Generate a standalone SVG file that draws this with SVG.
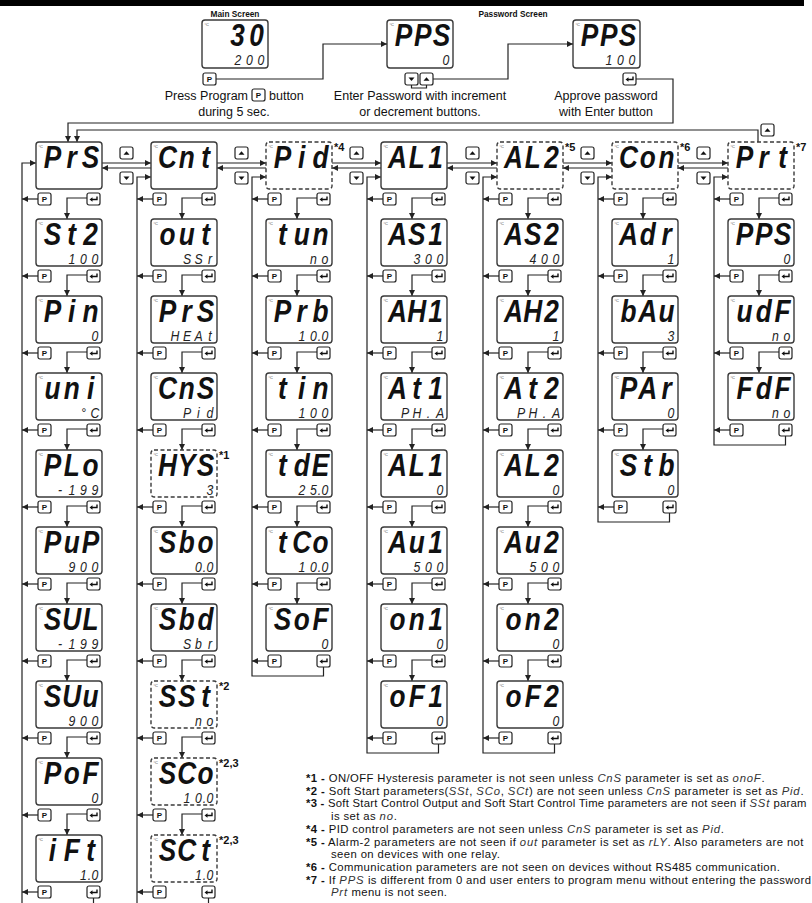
<svg xmlns="http://www.w3.org/2000/svg" xmlns:xlink="http://www.w3.org/1999/xlink" width="812" height="903" viewBox="0 0 812 903">
<style>
.scr{fill:#fff;stroke:#3a3a3a;stroke-width:1.4}
.dsh{stroke-dasharray:4 2.5}
.dg{font-family:'Liberation Sans',Arial,sans-serif;font-size:4px;fill:#444}
.bg{font-family:'Liberation Sans',Arial,sans-serif;font-size:32px;font-weight:bold;font-style:italic;fill:#111;text-anchor:middle}
.sm{font-family:'Liberation Sans',Arial,sans-serif;font-size:15px;font-style:italic;fill:#222;text-anchor:middle}
.btn{fill:#fff;stroke:#222;stroke-width:1.2}
.bt{font-family:'Liberation Sans',Arial,sans-serif;font-size:8px;font-weight:bold;fill:#111;text-anchor:middle}
.ln{fill:none;stroke:#222;stroke-width:1.2}
.ar{fill:none;stroke:#222;stroke-width:1.2;marker-end:url(#ah)}
.cap{font-family:'Liberation Sans',Arial,sans-serif;font-size:12.5px;fill:#111}
.ttl{font-family:'Liberation Sans',Arial,sans-serif;font-size:8.3px;font-weight:bold;fill:#111;text-anchor:middle}
.ft{font-family:'Liberation Sans',Arial,sans-serif;font-size:11px;font-weight:bold;fill:#111}
.nt{font-family:'Liberation Sans',Arial,sans-serif;font-size:11.3px;letter-spacing:0.4px;fill:#111}
.b{font-weight:bold}
.sg{font-style:italic;fill:#333;letter-spacing:0.8px}
</style>
<defs>
<marker id="ah" viewBox="0 0 10 10" refX="10" refY="5" markerWidth="6" markerHeight="6" markerUnits="userSpaceOnUse" orient="auto"><path d="M0,0L10,5L0,10z" fill="#222"/></marker>
<g id="bP"><rect class="btn" width="13" height="12" rx="2"/><text class="bt" x="6.5" y="9">P</text></g>
<g id="bE"><rect class="btn" width="13" height="12" rx="2"/><path d="M4,6.5H10V3.5" fill="none" stroke="#111" stroke-width="1.4"/><path d="M2.5,6.5L5.5,4.2V8.8Z" fill="#111"/></g>
<g id="bU"><rect class="btn" width="13" height="12" rx="2"/><path d="M3.5,7.8L6.5,4.2L9.5,7.8Z" fill="#111"/></g>
<g id="bD"><rect class="btn" width="13" height="12" rx="2"/><path d="M3.5,4.5L6.5,8.1L9.5,4.5Z" fill="#111"/></g>
</defs>
<rect width="812" height="903" fill="#fff"/>
<rect x="0" y="0" width="804" height="6" fill="#000"/>

<text class="ttl" x="235" y="17">Main Screen</text>
<text class="ttl" x="513" y="17">Password Screen</text>
<g id="main-screen" transform="translate(202,20)">
<rect class="scr" width="66" height="48" rx="3"/><text class="dg" x="2.5" y="5.5">°C</text>
<text class="bg" transform="scale(.82 1)" x="43.5 66.5" y="26">30</text>
<text class="sm" transform="scale(.82 1)" x="43.9 57.9 72" y="45">200</text>
<use href="#bP" x="1" y="53"/>
</g>
<g id="password-screen-0" transform="translate(387,20)">
<rect class="scr" width="66" height="48" rx="3"/><text class="dg" x="2.5" y="5.5">°C</text>
<text class="bg" transform="scale(.82 1)" x="20 43.5 66.5" y="26">PPS</text>
<text class="sm" transform="scale(.82 1)" x="72" y="45">0</text>
<use href="#bD" x="18" y="53"/><use href="#bU" x="33" y="53"/>
</g>
<g id="password-screen-100" transform="translate(573,20)">
<rect class="scr" width="67" height="48" rx="3"/><text class="dg" x="2.5" y="5.5">°C</text>
<text class="bg" transform="scale(.82 1)" x="20 43.5 66.5" y="26">PPS</text>
<text class="sm" transform="scale(.82 1)" x="43.9 57.9 72" y="45">100</text>
<use href="#bE" x="50" y="53"/>
</g>
<g id="captions">
<text class="cap" x="248" y="100" text-anchor="end">Press Program</text><use href="#bP" x="252" y="89"/><text class="cap" x="269" y="100">button</text>
<text class="cap" x="234" y="116" text-anchor="middle">during 5 sec.</text>
<text class="cap" x="420" y="100" text-anchor="middle">Enter Password with increment</text>
<text class="cap" x="420" y="116" text-anchor="middle">or decrement buttons.</text>
<text class="cap" x="606" y="100" text-anchor="middle">Approve password</text>
<text class="cap" x="606" y="116" text-anchor="middle">with Enter button</text>
</g>

<g id="connectors">
<path class="ar" d="M216,79H323V44H387"/>
<path class="ar" d="M433,79H508V44H573"/>
<path class="ln" d="M411.5,85V88H426.5V85"/>
<path class="ar" d="M636,79H673V123H68V142"/>
<path class="ar" d="M758,142V130H77V142"/>
<path class="ar" d="M102,163H151"/><path class="ar" d="M151,168H102"/>
<path class="ar" d="M217,163H266"/><path class="ar" d="M266,168H217"/>
<path class="ar" d="M332,163H381"/><path class="ar" d="M381,168H332"/>
<path class="ar" d="M447,163H497"/><path class="ar" d="M497,168H447"/>
<path class="ar" d="M563,163H612"/><path class="ar" d="M612,168H563"/>
<path class="ar" d="M678,163H728"/><path class="ar" d="M728,168H678"/>
<g transform="translate(36,142)">
<path class="ar" d="M2,57H-14"/><path class="ar" d="M2,134H-14"/><path class="ar" d="M2,211H-14"/><path class="ar" d="M2,288H-14"/><path class="ar" d="M2,365H-14"/><path class="ar" d="M2,442H-14"/><path class="ar" d="M2,519H-14"/><path class="ar" d="M2,596H-14"/><path class="ar" d="M2,673H-14"/><path class="ar" d="M2,750H-14"/>
<path class="ar" d="M51,56H31V77"/><path class="ar" d="M51,133H31V154"/><path class="ar" d="M51,210H31V231"/><path class="ar" d="M51,287H31V308"/><path class="ar" d="M51,364H31V385"/><path class="ar" d="M51,441H31V462"/><path class="ar" d="M51,518H31V539"/><path class="ar" d="M51,595H31V616"/><path class="ar" d="M51,672H31V693"/>
<path class="ar" d="M57.5,756V765H-14V21H0"/>
</g>
<g transform="translate(151,142)">
<path class="ar" d="M2,57H-14"/><path class="ar" d="M2,134H-14"/><path class="ar" d="M2,211H-14"/><path class="ar" d="M2,288H-14"/><path class="ar" d="M2,365H-14"/><path class="ar" d="M2,442H-14"/><path class="ar" d="M2,519H-14"/><path class="ar" d="M2,596H-14"/><path class="ar" d="M2,673H-14"/><path class="ar" d="M2,750H-14"/>
<path class="ar" d="M51,56H31V77"/><path class="ar" d="M51,133H31V154"/><path class="ar" d="M51,210H31V231"/><path class="ar" d="M51,287H31V308"/><path class="ar" d="M51,364H31V385"/><path class="ar" d="M51,441H31V462"/><path class="ar" d="M51,518H31V539"/><path class="ar" d="M51,595H31V616"/><path class="ar" d="M51,672H31V693"/>
<path class="ar" d="M57.5,756V765H-14V35H0"/>
</g>
<g transform="translate(266,142)">
<path class="ar" d="M2,57H-14"/><path class="ar" d="M2,134H-14"/><path class="ar" d="M2,211H-14"/><path class="ar" d="M2,288H-14"/><path class="ar" d="M2,365H-14"/><path class="ar" d="M2,442H-14"/><path class="ar" d="M2,519H-14"/>
<path class="ar" d="M51,56H31V77"/><path class="ar" d="M51,133H31V154"/><path class="ar" d="M51,210H31V231"/><path class="ar" d="M51,287H31V308"/><path class="ar" d="M51,364H31V385"/><path class="ar" d="M51,441H31V462"/>
<path class="ar" d="M57.5,525V534H-14V35H0"/>
</g>
<g transform="translate(381,142)">
<path class="ar" d="M2,57H-14"/><path class="ar" d="M2,134H-14"/><path class="ar" d="M2,211H-14"/><path class="ar" d="M2,288H-14"/><path class="ar" d="M2,365H-14"/><path class="ar" d="M2,442H-14"/><path class="ar" d="M2,519H-14"/><path class="ar" d="M2,596H-14"/>
<path class="ar" d="M51,56H31V77"/><path class="ar" d="M51,133H31V154"/><path class="ar" d="M51,210H31V231"/><path class="ar" d="M51,287H31V308"/><path class="ar" d="M51,364H31V385"/><path class="ar" d="M51,441H31V462"/><path class="ar" d="M51,518H31V539"/>
<path class="ar" d="M57.5,602V611H-14V35H0"/>
</g>
<g transform="translate(497,142)">
<path class="ar" d="M2,57H-14"/><path class="ar" d="M2,134H-14"/><path class="ar" d="M2,211H-14"/><path class="ar" d="M2,288H-14"/><path class="ar" d="M2,365H-14"/><path class="ar" d="M2,442H-14"/><path class="ar" d="M2,519H-14"/><path class="ar" d="M2,596H-14"/>
<path class="ar" d="M51,56H31V77"/><path class="ar" d="M51,133H31V154"/><path class="ar" d="M51,210H31V231"/><path class="ar" d="M51,287H31V308"/><path class="ar" d="M51,364H31V385"/><path class="ar" d="M51,441H31V462"/><path class="ar" d="M51,518H31V539"/>
<path class="ar" d="M57.5,602V611H-14V35H0"/>
</g>
<g transform="translate(612,142)">
<path class="ar" d="M2,57H-14"/><path class="ar" d="M2,134H-14"/><path class="ar" d="M2,211H-14"/><path class="ar" d="M2,288H-14"/><path class="ar" d="M2,365H-14"/>
<path class="ar" d="M51,56H31V77"/><path class="ar" d="M51,133H31V154"/><path class="ar" d="M51,210H31V231"/><path class="ar" d="M51,287H31V308"/>
<path class="ar" d="M57.5,371V380H-14V35H0"/>
</g>
<g transform="translate(728,142)">
<path class="ar" d="M2,57H-14"/><path class="ar" d="M2,134H-14"/><path class="ar" d="M2,211H-14"/><path class="ar" d="M2,288H-14"/>
<path class="ar" d="M51,56H31V77"/><path class="ar" d="M51,133H31V154"/><path class="ar" d="M51,210H31V231"/>
<path class="ar" d="M57.5,294V303H-14V35H0"/>
</g>
</g>

<g id="nav-buttons">
<use href="#bU" x="120" y="147"/><use href="#bD" x="120" y="172"/>
<use href="#bU" x="235" y="147"/><use href="#bD" x="235" y="172"/>
<use href="#bU" x="350" y="147"/><use href="#bD" x="350" y="172"/>
<use href="#bU" x="466" y="147"/><use href="#bD" x="466" y="172"/>
<use href="#bU" x="581" y="147"/><use href="#bD" x="581" y="172"/>
<use href="#bU" x="697" y="147"/><use href="#bD" x="697" y="172"/>
<use href="#bU" x="761" y="124"/>
</g>

<g id="n-PrS" transform="translate(36,142)"><rect class="scr" width="66" height="47" rx="3"/><text class="dg" x="2.5" y="5.5">°C</text><text class="bg" transform="scale(.82 1)" x="20 43.5 66.5" y="26">PrS</text><use href="#bP" x="2" y="51"/><use href="#bE" x="51" y="51"/></g>
<g id="n-St2" transform="translate(36,219)"><rect class="scr" width="66" height="47" rx="3"/><text class="dg" x="2.5" y="5.5">°C</text><text class="bg" transform="scale(.82 1)" x="20 43.5 66.5" y="26">St2</text><text class="sm" transform="scale(.82 1)" x="43.9 57.9 72" y="45">100</text><use href="#bP" x="2" y="51"/><use href="#bE" x="51" y="51"/></g>
<g id="n-Pin" transform="translate(36,296)"><rect class="scr" width="66" height="47" rx="3"/><text class="dg" x="2.5" y="5.5">°C</text><text class="bg" transform="scale(.82 1)" x="20 43.5 66.5" y="26">Pin</text><text class="sm" transform="scale(.82 1)" x="72" y="45">0</text><use href="#bP" x="2" y="51"/><use href="#bE" x="51" y="51"/></g>
<g id="n-uni" transform="translate(36,373)"><rect class="scr" width="66" height="47" rx="3"/><text class="dg" x="2.5" y="5.5">°C</text><text class="bg" transform="scale(.82 1)" x="20 43.5 66.5" y="26">uni</text><text class="sm" transform="scale(.82 1)" x="57.9 72" y="45">°C</text><use href="#bP" x="2" y="51"/><use href="#bE" x="51" y="51"/></g>
<g id="n-PLo" transform="translate(36,450)"><rect class="scr" width="66" height="47" rx="3"/><text class="dg" x="2.5" y="5.5">°C</text><text class="bg" transform="scale(.82 1)" x="20 43.5 66.5" y="26">PLo</text><text class="sm" transform="scale(.82 1)" x="29.3 43.9 57.9 72" y="45">-199</text><use href="#bP" x="2" y="51"/><use href="#bE" x="51" y="51"/></g>
<g id="n-PuP" transform="translate(36,527)"><rect class="scr" width="66" height="47" rx="3"/><text class="dg" x="2.5" y="5.5">°C</text><text class="bg" transform="scale(.82 1)" x="20 43.5 66.5" y="26">PuP</text><text class="sm" transform="scale(.82 1)" x="43.9 57.9 72" y="45">900</text><use href="#bP" x="2" y="51"/><use href="#bE" x="51" y="51"/></g>
<g id="n-SUL" transform="translate(36,604)"><rect class="scr" width="66" height="47" rx="3"/><text class="dg" x="2.5" y="5.5">°C</text><text class="bg" transform="scale(.82 1)" x="20 43.5 66.5" y="26">SUL</text><text class="sm" transform="scale(.82 1)" x="29.3 43.9 57.9 72" y="45">-199</text><use href="#bP" x="2" y="51"/><use href="#bE" x="51" y="51"/></g>
<g id="n-SUu" transform="translate(36,681)"><rect class="scr" width="66" height="47" rx="3"/><text class="dg" x="2.5" y="5.5">°C</text><text class="bg" transform="scale(.82 1)" x="20 43.5 66.5" y="26">SUu</text><text class="sm" transform="scale(.82 1)" x="43.9 57.9 72" y="45">900</text><use href="#bP" x="2" y="51"/><use href="#bE" x="51" y="51"/></g>
<g id="n-PoF" transform="translate(36,758)"><rect class="scr" width="66" height="47" rx="3"/><text class="dg" x="2.5" y="5.5">°C</text><text class="bg" transform="scale(.82 1)" x="20 43.5 66.5" y="26">PoF</text><text class="sm" transform="scale(.82 1)" x="72" y="45">0</text><use href="#bP" x="2" y="51"/><use href="#bE" x="51" y="51"/></g>
<g id="n-iFt" transform="translate(36,835)"><rect class="scr" width="66" height="47" rx="3"/><text class="dg" x="2.5" y="5.5">°C</text><text class="bg" transform="scale(.82 1)" x="20 43.5 66.5" y="26">iFt</text><text class="sm" transform="scale(.82 1)" x="57.9 65.2 72" y="45">1.0</text><use href="#bP" x="2" y="51"/><use href="#bE" x="51" y="51"/></g>

<g id="n-Cnt" transform="translate(151,142)"><rect class="scr" width="66" height="47" rx="3"/><text class="dg" x="2.5" y="5.5">°C</text><text class="bg" transform="scale(.82 1)" x="20 43.5 66.5" y="26">Cnt</text><use href="#bP" x="2" y="51"/><use href="#bE" x="51" y="51"/></g>
<g id="n-out" transform="translate(151,219)"><rect class="scr" width="66" height="47" rx="3"/><text class="dg" x="2.5" y="5.5">°C</text><text class="bg" transform="scale(.82 1)" x="20 43.5 66.5" y="26">out</text><text class="sm" transform="scale(.82 1)" x="43.9 57.9 72" y="45">SSr</text><use href="#bP" x="2" y="51"/><use href="#bE" x="51" y="51"/></g>
<g id="n-PrS-2" transform="translate(151,296)"><rect class="scr" width="66" height="47" rx="3"/><text class="dg" x="2.5" y="5.5">°C</text><text class="bg" transform="scale(.82 1)" x="20 43.5 66.5" y="26">PrS</text><text class="sm" transform="scale(.82 1)" x="29.3 43.9 57.9 72" y="45">HEAt</text><use href="#bP" x="2" y="51"/><use href="#bE" x="51" y="51"/></g>
<g id="n-CnS" transform="translate(151,373)"><rect class="scr" width="66" height="47" rx="3"/><text class="dg" x="2.5" y="5.5">°C</text><text class="bg" transform="scale(.82 1)" x="20 43.5 66.5" y="26">CnS</text><text class="sm" transform="scale(.82 1)" x="43.9 57.9 72" y="45">Pid</text><use href="#bP" x="2" y="51"/><use href="#bE" x="51" y="51"/></g>
<g id="n-HYS" transform="translate(151,450)"><rect class="scr dsh" width="66" height="47" rx="3"/><text class="dg" x="2.5" y="5.5">°C</text><text class="bg" transform="scale(.82 1)" x="20 43.5 66.5" y="26">HYS</text><text class="sm" transform="scale(.82 1)" x="72" y="45">3</text><use href="#bP" x="2" y="51"/><use href="#bE" x="51" y="51"/><text class="ft" x="68" y="9">*1</text></g>
<g id="n-Sbo" transform="translate(151,527)"><rect class="scr" width="66" height="47" rx="3"/><text class="dg" x="2.5" y="5.5">°C</text><text class="bg" transform="scale(.82 1)" x="20 43.5 66.5" y="26">Sbo</text><text class="sm" transform="scale(.82 1)" x="57.9 65.2 72" y="45">0.0</text><use href="#bP" x="2" y="51"/><use href="#bE" x="51" y="51"/></g>
<g id="n-Sbd" transform="translate(151,604)"><rect class="scr" width="66" height="47" rx="3"/><text class="dg" x="2.5" y="5.5">°C</text><text class="bg" transform="scale(.82 1)" x="20 43.5 66.5" y="26">Sbd</text><text class="sm" transform="scale(.82 1)" x="43.9 57.9 72" y="45">Sbr</text><use href="#bP" x="2" y="51"/><use href="#bE" x="51" y="51"/></g>
<g id="n-SSt" transform="translate(151,681)"><rect class="scr dsh" width="66" height="47" rx="3"/><text class="dg" x="2.5" y="5.5">°C</text><text class="bg" transform="scale(.82 1)" x="20 43.5 66.5" y="26">SSt</text><text class="sm" transform="scale(.82 1)" x="57.9 72" y="45">no</text><use href="#bP" x="2" y="51"/><use href="#bE" x="51" y="51"/><text class="ft" x="68" y="9">*2</text></g>
<g id="n-SCo" transform="translate(151,758)"><rect class="scr dsh" width="66" height="47" rx="3"/><text class="dg" x="2.5" y="5.5">°C</text><text class="bg" transform="scale(.82 1)" x="20 43.5 66.5" y="26">SCo</text><text class="sm" transform="scale(.82 1)" x="43.9 57.9 65.2 72" y="45">10.0</text><use href="#bP" x="2" y="51"/><use href="#bE" x="51" y="51"/><text class="ft" x="68" y="9">*2,3</text></g>
<g id="n-SCt" transform="translate(151,835)"><rect class="scr dsh" width="66" height="47" rx="3"/><text class="dg" x="2.5" y="5.5">°C</text><text class="bg" transform="scale(.82 1)" x="20 43.5 66.5" y="26">SCt</text><text class="sm" transform="scale(.82 1)" x="57.9 65.2 72" y="45">1.0</text><use href="#bP" x="2" y="51"/><use href="#bE" x="51" y="51"/><text class="ft" x="68" y="9">*2,3</text></g>

<g id="n-Pid" transform="translate(266,142)"><rect class="scr dsh" width="66" height="47" rx="3"/><text class="dg" x="2.5" y="5.5">°C</text><text class="bg" transform="scale(.82 1)" x="20 43.5 66.5" y="26">Pid</text><use href="#bP" x="2" y="51"/><use href="#bE" x="51" y="51"/><text class="ft" x="68" y="9">*4</text></g>
<g id="n-tun" transform="translate(266,219)"><rect class="scr" width="66" height="47" rx="3"/><text class="dg" x="2.5" y="5.5">°C</text><text class="bg" transform="scale(.82 1)" x="20 43.5 66.5" y="26">tun</text><text class="sm" transform="scale(.82 1)" x="57.9 72" y="45">no</text><use href="#bP" x="2" y="51"/><use href="#bE" x="51" y="51"/></g>
<g id="n-Prb" transform="translate(266,296)"><rect class="scr" width="66" height="47" rx="3"/><text class="dg" x="2.5" y="5.5">°C</text><text class="bg" transform="scale(.82 1)" x="20 43.5 66.5" y="26">Prb</text><text class="sm" transform="scale(.82 1)" x="43.9 57.9 65.2 72" y="45">10.0</text><use href="#bP" x="2" y="51"/><use href="#bE" x="51" y="51"/></g>
<g id="n-tin" transform="translate(266,373)"><rect class="scr" width="66" height="47" rx="3"/><text class="dg" x="2.5" y="5.5">°C</text><text class="bg" transform="scale(.82 1)" x="20 43.5 66.5" y="26">tin</text><text class="sm" transform="scale(.82 1)" x="43.9 57.9 72" y="45">100</text><use href="#bP" x="2" y="51"/><use href="#bE" x="51" y="51"/></g>
<g id="n-tdE" transform="translate(266,450)"><rect class="scr" width="66" height="47" rx="3"/><text class="dg" x="2.5" y="5.5">°C</text><text class="bg" transform="scale(.82 1)" x="20 43.5 66.5" y="26">tdE</text><text class="sm" transform="scale(.82 1)" x="43.9 57.9 65.2 72" y="45">25.0</text><use href="#bP" x="2" y="51"/><use href="#bE" x="51" y="51"/></g>
<g id="n-tCo" transform="translate(266,527)"><rect class="scr" width="66" height="47" rx="3"/><text class="dg" x="2.5" y="5.5">°C</text><text class="bg" transform="scale(.82 1)" x="20 43.5 66.5" y="26">tCo</text><text class="sm" transform="scale(.82 1)" x="43.9 57.9 65.2 72" y="45">10.0</text><use href="#bP" x="2" y="51"/><use href="#bE" x="51" y="51"/></g>
<g id="n-SoF" transform="translate(266,604)"><rect class="scr" width="66" height="47" rx="3"/><text class="dg" x="2.5" y="5.5">°C</text><text class="bg" transform="scale(.82 1)" x="20 43.5 66.5" y="26">SoF</text><text class="sm" transform="scale(.82 1)" x="72" y="45">0</text><use href="#bP" x="2" y="51"/><use href="#bE" x="51" y="51"/></g>

<g id="n-AL1" transform="translate(381,142)"><rect class="scr" width="66" height="47" rx="3"/><text class="dg" x="2.5" y="5.5">°C</text><text class="bg" transform="scale(.82 1)" x="20 43.5 66.5" y="26">AL1</text><use href="#bP" x="2" y="51"/><use href="#bE" x="51" y="51"/></g>
<g id="n-AS1" transform="translate(381,219)"><rect class="scr" width="66" height="47" rx="3"/><text class="dg" x="2.5" y="5.5">°C</text><text class="bg" transform="scale(.82 1)" x="20 43.5 66.5" y="26">AS1</text><text class="sm" transform="scale(.82 1)" x="43.9 57.9 72" y="45">300</text><use href="#bP" x="2" y="51"/><use href="#bE" x="51" y="51"/></g>
<g id="n-AH1" transform="translate(381,296)"><rect class="scr" width="66" height="47" rx="3"/><text class="dg" x="2.5" y="5.5">°C</text><text class="bg" transform="scale(.82 1)" x="20 43.5 66.5" y="26">AH1</text><text class="sm" transform="scale(.82 1)" x="72" y="45">1</text><use href="#bP" x="2" y="51"/><use href="#bE" x="51" y="51"/></g>
<g id="n-At1" transform="translate(381,373)"><rect class="scr" width="66" height="47" rx="3"/><text class="dg" x="2.5" y="5.5">°C</text><text class="bg" transform="scale(.82 1)" x="20 43.5 66.5" y="26">At1</text><text class="sm" transform="scale(.82 1)" x="29.3 43.9 57.9 72" y="45">PH.A</text><use href="#bP" x="2" y="51"/><use href="#bE" x="51" y="51"/></g>
<g id="n-AL1-v" transform="translate(381,450)"><rect class="scr" width="66" height="47" rx="3"/><text class="dg" x="2.5" y="5.5">°C</text><text class="bg" transform="scale(.82 1)" x="20 43.5 66.5" y="26">AL1</text><text class="sm" transform="scale(.82 1)" x="72" y="45">0</text><use href="#bP" x="2" y="51"/><use href="#bE" x="51" y="51"/></g>
<g id="n-Au1" transform="translate(381,527)"><rect class="scr" width="66" height="47" rx="3"/><text class="dg" x="2.5" y="5.5">°C</text><text class="bg" transform="scale(.82 1)" x="20 43.5 66.5" y="26">Au1</text><text class="sm" transform="scale(.82 1)" x="43.9 57.9 72" y="45">500</text><use href="#bP" x="2" y="51"/><use href="#bE" x="51" y="51"/></g>
<g id="n-on1" transform="translate(381,604)"><rect class="scr" width="66" height="47" rx="3"/><text class="dg" x="2.5" y="5.5">°C</text><text class="bg" transform="scale(.82 1)" x="20 43.5 66.5" y="26">on1</text><text class="sm" transform="scale(.82 1)" x="72" y="45">0</text><use href="#bP" x="2" y="51"/><use href="#bE" x="51" y="51"/></g>
<g id="n-oF1" transform="translate(381,681)"><rect class="scr" width="66" height="47" rx="3"/><text class="dg" x="2.5" y="5.5">°C</text><text class="bg" transform="scale(.82 1)" x="20 43.5 66.5" y="26">oF1</text><text class="sm" transform="scale(.82 1)" x="72" y="45">0</text><use href="#bP" x="2" y="51"/><use href="#bE" x="51" y="51"/></g>

<g id="n-AL2" transform="translate(497,142)"><rect class="scr dsh" width="66" height="47" rx="3"/><text class="dg" x="2.5" y="5.5">°C</text><text class="bg" transform="scale(.82 1)" x="20 43.5 66.5" y="26">AL2</text><use href="#bP" x="2" y="51"/><use href="#bE" x="51" y="51"/><text class="ft" x="68" y="9">*5</text></g>
<g id="n-AS2" transform="translate(497,219)"><rect class="scr" width="66" height="47" rx="3"/><text class="dg" x="2.5" y="5.5">°C</text><text class="bg" transform="scale(.82 1)" x="20 43.5 66.5" y="26">AS2</text><text class="sm" transform="scale(.82 1)" x="43.9 57.9 72" y="45">400</text><use href="#bP" x="2" y="51"/><use href="#bE" x="51" y="51"/></g>
<g id="n-AH2" transform="translate(497,296)"><rect class="scr" width="66" height="47" rx="3"/><text class="dg" x="2.5" y="5.5">°C</text><text class="bg" transform="scale(.82 1)" x="20 43.5 66.5" y="26">AH2</text><text class="sm" transform="scale(.82 1)" x="72" y="45">1</text><use href="#bP" x="2" y="51"/><use href="#bE" x="51" y="51"/></g>
<g id="n-At2" transform="translate(497,373)"><rect class="scr" width="66" height="47" rx="3"/><text class="dg" x="2.5" y="5.5">°C</text><text class="bg" transform="scale(.82 1)" x="20 43.5 66.5" y="26">At2</text><text class="sm" transform="scale(.82 1)" x="29.3 43.9 57.9 72" y="45">PH.A</text><use href="#bP" x="2" y="51"/><use href="#bE" x="51" y="51"/></g>
<g id="n-AL2-v" transform="translate(497,450)"><rect class="scr" width="66" height="47" rx="3"/><text class="dg" x="2.5" y="5.5">°C</text><text class="bg" transform="scale(.82 1)" x="20 43.5 66.5" y="26">AL2</text><text class="sm" transform="scale(.82 1)" x="72" y="45">0</text><use href="#bP" x="2" y="51"/><use href="#bE" x="51" y="51"/></g>
<g id="n-Au2" transform="translate(497,527)"><rect class="scr" width="66" height="47" rx="3"/><text class="dg" x="2.5" y="5.5">°C</text><text class="bg" transform="scale(.82 1)" x="20 43.5 66.5" y="26">Au2</text><text class="sm" transform="scale(.82 1)" x="43.9 57.9 72" y="45">500</text><use href="#bP" x="2" y="51"/><use href="#bE" x="51" y="51"/></g>
<g id="n-on2" transform="translate(497,604)"><rect class="scr" width="66" height="47" rx="3"/><text class="dg" x="2.5" y="5.5">°C</text><text class="bg" transform="scale(.82 1)" x="20 43.5 66.5" y="26">on2</text><text class="sm" transform="scale(.82 1)" x="72" y="45">0</text><use href="#bP" x="2" y="51"/><use href="#bE" x="51" y="51"/></g>
<g id="n-oF2" transform="translate(497,681)"><rect class="scr" width="66" height="47" rx="3"/><text class="dg" x="2.5" y="5.5">°C</text><text class="bg" transform="scale(.82 1)" x="20 43.5 66.5" y="26">oF2</text><text class="sm" transform="scale(.82 1)" x="72" y="45">0</text><use href="#bP" x="2" y="51"/><use href="#bE" x="51" y="51"/></g>

<g id="n-Con" transform="translate(612,142)"><rect class="scr dsh" width="66" height="47" rx="3"/><text class="dg" x="2.5" y="5.5">°C</text><text class="bg" transform="scale(.82 1)" x="20 43.5 66.5" y="26">Con</text><use href="#bP" x="2" y="51"/><use href="#bE" x="51" y="51"/><text class="ft" x="68" y="9">*6</text></g>
<g id="n-Adr" transform="translate(612,219)"><rect class="scr" width="66" height="47" rx="3"/><text class="dg" x="2.5" y="5.5">°C</text><text class="bg" transform="scale(.82 1)" x="20 43.5 66.5" y="26">Adr</text><text class="sm" transform="scale(.82 1)" x="72" y="45">1</text><use href="#bP" x="2" y="51"/><use href="#bE" x="51" y="51"/></g>
<g id="n-bAu" transform="translate(612,296)"><rect class="scr" width="66" height="47" rx="3"/><text class="dg" x="2.5" y="5.5">°C</text><text class="bg" transform="scale(.82 1)" x="20 43.5 66.5" y="26">bAu</text><text class="sm" transform="scale(.82 1)" x="72" y="45">3</text><use href="#bP" x="2" y="51"/><use href="#bE" x="51" y="51"/></g>
<g id="n-PAr" transform="translate(612,373)"><rect class="scr" width="66" height="47" rx="3"/><text class="dg" x="2.5" y="5.5">°C</text><text class="bg" transform="scale(.82 1)" x="20 43.5 66.5" y="26">PAr</text><text class="sm" transform="scale(.82 1)" x="72" y="45">0</text><use href="#bP" x="2" y="51"/><use href="#bE" x="51" y="51"/></g>
<g id="n-Stb" transform="translate(612,450)"><rect class="scr" width="66" height="47" rx="3"/><text class="dg" x="2.5" y="5.5">°C</text><text class="bg" transform="scale(.82 1)" x="20 43.5 66.5" y="26">Stb</text><text class="sm" transform="scale(.82 1)" x="72" y="45">0</text><use href="#bP" x="2" y="51"/><use href="#bE" x="51" y="51"/></g>

<g id="n-Prt" transform="translate(728,142)"><rect class="scr dsh" width="66" height="47" rx="3"/><text class="dg" x="2.5" y="5.5">°C</text><text class="bg" transform="scale(.82 1)" x="20 43.5 66.5" y="26">Prt</text><use href="#bP" x="2" y="51"/><use href="#bE" x="51" y="51"/><text class="ft" x="68" y="9">*7</text></g>
<g id="n-PPS" transform="translate(728,219)"><rect class="scr" width="66" height="47" rx="3"/><text class="dg" x="2.5" y="5.5">°C</text><text class="bg" transform="scale(.82 1)" x="20 43.5 66.5" y="26">PPS</text><text class="sm" transform="scale(.82 1)" x="72" y="45">0</text><use href="#bP" x="2" y="51"/><use href="#bE" x="51" y="51"/></g>
<g id="n-udF" transform="translate(728,296)"><rect class="scr" width="66" height="47" rx="3"/><text class="dg" x="2.5" y="5.5">°C</text><text class="bg" transform="scale(.82 1)" x="20 43.5 66.5" y="26">udF</text><text class="sm" transform="scale(.82 1)" x="57.9 72" y="45">no</text><use href="#bP" x="2" y="51"/><use href="#bE" x="51" y="51"/></g>
<g id="n-FdF" transform="translate(728,373)"><rect class="scr" width="66" height="47" rx="3"/><text class="dg" x="2.5" y="5.5">°C</text><text class="bg" transform="scale(.82 1)" x="20 43.5 66.5" y="26">FdF</text><text class="sm" transform="scale(.82 1)" x="57.9 72" y="45">no</text><use href="#bP" x="2" y="51"/><use href="#bE" x="51" y="51"/></g>

<g id="footnotes" class="nt">
<text x="306" y="782"><tspan class="b">*1 -</tspan> ON/OFF Hysteresis parameter is not seen unless <tspan class="sg">CnS</tspan> parameter is set as <tspan class="sg">onoF</tspan>.</text>
<text x="306" y="794.7"><tspan class="b">*2 -</tspan> Soft Start parameters(<tspan class="sg">SSt</tspan>, <tspan class="sg">SCo</tspan>, <tspan class="sg">SCt</tspan>) are not seen unless <tspan class="sg">CnS</tspan> parameter is set as <tspan class="sg">Pid</tspan>.</text>
<text x="306" y="807.4" style="letter-spacing:0.25px"><tspan class="b">*3 -</tspan> Soft Start Control Output and Soft Start Control Time parameters are not seen if <tspan class="sg">SSt</tspan> param</text>
<text x="331" y="820.1">is set as <tspan class="sg">no</tspan>.</text>
<text x="306" y="832.8"><tspan class="b">*4 -</tspan> PID control parameters are not seen unless <tspan class="sg">CnS</tspan> parameter is set as <tspan class="sg">Pid</tspan>.</text>
<text x="306" y="845.5"><tspan class="b">*5 -</tspan> Alarm-2 parameters are not seen if <tspan class="sg">out</tspan> parameter is set as <tspan class="sg">rLY</tspan>. Also parameters are not</text>
<text x="331" y="858.2">seen on devices with one relay.</text>
<text x="306" y="870.9"><tspan class="b">*6 -</tspan> Communication parameters are not seen on devices without RS485 communication.</text>
<text x="306" y="883.6"><tspan class="b">*7 -</tspan> If <tspan class="sg">PPS</tspan> is different from 0 and user enters to program menu without entering the password</text>
<text x="331" y="896.3"><tspan class="sg">Prt</tspan> menu is not seen.</text>
</g>
</svg>
